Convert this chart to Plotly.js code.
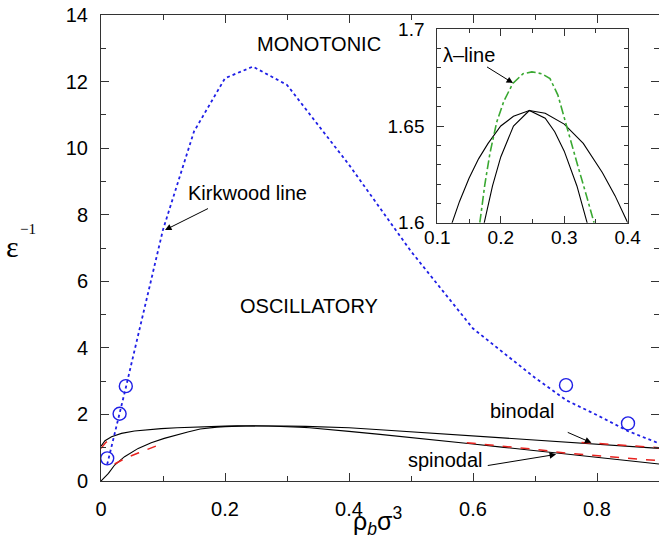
<!DOCTYPE html>
<html>
<head>
<meta charset="utf-8">
<script src="https://cdn.plot.ly/plotly-3.0.1.min.js"></script>
<style>html,body{margin:0;padding:0;background:#fff;}#chart{width:659px;height:541px;}</style>
</head>
<body>
<div id="chart"></div>
<script>
// Kirkwood line (blue dotted)
const kirkX = [0.01, 0.03, 0.04, 0.05, 0.1, 0.15, 0.2, 0.245, 0.3, 0.4, 0.5, 0.6, 0.7, 0.75, 0.8, 0.85, 0.9];
const kirkY = [0.5, 2.0, 2.8, 3.6, 7.55, 10.5, 12.1, 12.45, 11.9, 9.5, 6.9, 4.58, 3.1, 2.43, 1.98, 1.5, 1.13];
// simulation points (open circles)
const circX = [0.01, 0.03, 0.04, 0.75, 0.85];
const circY = [0.68, 2.02, 2.85, 2.88, 1.73];
// binodal (black)
const binX = [0, 0.0064, 0.017, 0.033, 0.054, 0.075, 0.097, 0.1227, 0.135, 0.15, 0.165, 0.18, 0.2, 0.22, 0.245, 0.27, 0.3, 0.33, 0.36, 0.38, 0.4, 0.45, 0.5, 0.542, 0.6, 0.65, 0.7, 0.734, 0.8, 0.85, 0.9];
const binY = [1.05, 1.21, 1.33, 1.43, 1.50, 1.545, 1.575, 1.600, 1.611, 1.623, 1.633, 1.641, 1.650, 1.655, 1.658, 1.6566, 1.651, 1.641, 1.626, 1.614, 1.600, 1.54, 1.48, 1.43, 1.36, 1.29, 1.23, 1.18, 1.10, 1.04, 0.98];
// spinodal (black)
const spX = [0, 0.005, 0.012, 0.022, 0.038, 0.06, 0.081, 0.102, 0.12, 0.14, 0.16, 0.174, 0.187, 0.2, 0.22, 0.245, 0.27, 0.285, 0.3, 0.32, 0.336, 0.369, 0.4, 0.45, 0.5, 0.55, 0.6, 0.65, 0.7, 0.75, 0.8, 0.85, 0.9];
const spY = [0, 0.09, 0.23, 0.48, 0.73, 0.98, 1.15, 1.28, 1.38, 1.47, 1.56, 1.600, 1.619, 1.634, 1.650, 1.658, 1.654, 1.647, 1.637, 1.619, 1.600, 1.55, 1.49, 1.40, 1.31, 1.21, 1.11, 1.01, 0.91, 0.79, 0.70, 0.60, 0.51];
// red dashed approximations
const redBinLowX = [0, 0.004, 0.008, 0.012];
const redBinLowY = [0.98, 1.08, 1.16, 1.22];
const redSpLowX = [0.022, 0.04, 0.06, 0.08, 0.097];
const redSpLowY = [0.51, 0.69, 0.84, 0.98, 1.11];
const redBinHighX = [0.775, 0.8, 0.85, 0.9];
const redBinHighY = [1.16, 1.13, 1.07, 1.0];
const redSpHighX = [0.59, 0.65, 0.7, 0.75, 0.8, 0.85, 0.9];
const redSpHighY = [1.15, 1.05, 0.95, 0.84, 0.76, 0.68, 0.61];
// lambda line (green, inset)
const lamX = [0.167, 0.175, 0.183, 0.1936, 0.205, 0.219, 0.235, 0.249, 0.265, 0.2776, 0.29, 0.306, 0.32, 0.335, 0.347];
const lamY = [1.6, 1.62, 1.636, 1.652, 1.663, 1.672, 1.677, 1.678, 1.677, 1.6745, 1.666, 1.647, 1.631, 1.614, 1.6];
// tick labels
const mainXTicks = [0, 0.2, 0.4, 0.6, 0.8];
const mainYTicks = [0, 2, 4, 6, 8, 10, 12, 14];
const insetXTicks = [0.1, 0.2, 0.3, 0.4];
const insetYTicks = [1.6, 1.65, 1.7];

const SANS = 'Liberation Sans, Arial, Helvetica, sans-serif';
const SERIF = 'Liberation Serif, Times New Roman, serif';
const BLUE = '#1f1fe6';
const RED = '#e8231f';
const GREEN = '#3aa832';

function line(x, y, color, dash, width, ax) {
  return {x: x, y: y, type: 'scatter', mode: 'lines', xaxis: ax ? 'x2' : 'x', yaxis: ax ? 'y2' : 'y',
    line: {color: color, dash: dash, width: width}, hoverinfo: 'skip', showlegend: false};
}

const traces = [
  line(binX, binY, '#000', 'solid', 1.1),
  line(spX, spY, '#000', 'solid', 1.1),
  line(redBinLowX, redBinLowY, RED, 'dash', 1.5),
  line(redSpLowX, redSpLowY, RED, 'dash', 1.5),
  line(redBinHighX, redBinHighY, RED, 'dash', 1.5),
  line(redSpHighX, redSpHighY, RED, 'dash', 1.5),
  line(kirkX, kirkY, BLUE, 'dot', 1.8),
  {x: circX, y: circY, type: 'scatter', mode: 'markers', showlegend: false, hoverinfo: 'skip',
    marker: {symbol: 'circle-open', size: 13, color: BLUE, line: {width: 1.4, color: BLUE}}},
  line(binX, binY, '#000', 'solid', 1.1, true),
  line(spX, spY, '#000', 'solid', 1.1, true),
  line(lamX, lamY, GREEN, 'dashdot', 1.6, true)
];

function axisBase(extra) {
  return Object.assign({
    showline: true, linecolor: '#333', linewidth: 1, mirror: 'allticks',
    ticks: 'inside', tickcolor: '#333', tickwidth: 1, showgrid: false, zeroline: false,
    tickfont: {family: SANS, size: 20, color: '#000'}, fixedrange: true
  }, extra);
}

const arrowBase = {text: ' ', showarrow: true, arrowhead: 2, arrowsize: 1.3, arrowwidth: 1, arrowcolor: '#000',
  axref: 'x', ayref: 'y', standoff: 0, startstandoff: 0};

const layout = {
  width: 659, height: 541,
  margin: {l: 101, r: 0, t: 15, b: 60},
  paper_bgcolor: '#fff', plot_bgcolor: '#fff',
  showlegend: false,
  xaxis: axisBase({domain: [0, 1], range: [0, 0.9], tickvals: mainXTicks, ticktext: mainXTicks.map(String),
    ticklen: 8, ticklabelstandoff: 10, minor: {dtick: 0.1, ticklen: 5, tickcolor: '#333', ticks: 'inside'}}),
  yaxis: axisBase({domain: [0, 1], range: [0, 14], tickvals: mainYTicks, ticktext: mainYTicks.map(String),
    ticklen: 8, ticklabelstandoff: 8, minor: {dtick: 1, ticklen: 5, tickcolor: '#333', ticks: 'inside'}}),
  xaxis2: axisBase({domain: [0.6027, 0.9439], anchor: 'y2', range: [0.1, 0.4], tickvals: insetXTicks,
    ticktext: insetXTicks.map(String), ticklen: 7, ticklabelstandoff: -2, tickfont: {family: SANS, size: 19, color: '#000'},
    minor: {dtick: 0.05, ticklen: 4, tickcolor: '#333', ticks: 'inside'}}),
  yaxis2: axisBase({domain: [0.5543, 0.9693], anchor: 'x2', range: [1.6, 1.7], tickvals: insetYTicks,
    ticktext: insetYTicks.map(String), ticklen: 7, ticklabelstandoff: 8, tickfont: {family: SANS, size: 19, color: '#000'},
    minor: {dtick: 0.01, ticklen: 4, tickcolor: '#333', ticks: 'inside'}}),
  annotations: [
    {text: 'MONOTONIC', x: 0.3516, y: 13.13, xref: 'x', yref: 'y', showarrow: false, font: {family: SANS, size: 20, color: '#000'}},
    {text: 'OSCILLATORY', x: 0.3355, y: 5.27, xref: 'x', yref: 'y', showarrow: false, font: {family: SANS, size: 20, color: '#000'}},
    {text: 'Kirkwood line', x: 0.2363, y: 8.64, xref: 'x', yref: 'y', showarrow: false, font: {family: SANS, size: 20, color: '#000'}},
    {text: 'binodal', x: 0.6806, y: 2.11, xref: 'x', yref: 'y', showarrow: false, font: {family: SANS, size: 20, color: '#000'}},
    {text: 'spinodal', x: 0.5561, y: 0.63, xref: 'x', yref: 'y', showarrow: false, font: {family: SANS, size: 20, color: '#000'}},
    {text: 'λ–line', x: 0.15, y: 1.6865, xref: 'x2', yref: 'y2', showarrow: false, font: {family: SANS, size: 20, color: '#000'}},
    Object.assign({}, arrowBase, {x: 0.1032, y: 7.54, ax: 0.1774, ay: 8.23, xref: 'x', yref: 'y'}),
    Object.assign({}, arrowBase, {x: 0.791, y: 1.15, ax: 0.748, ay: 1.50, xref: 'x', yref: 'y'}),
    Object.assign({}, arrowBase, {x: 0.734, y: 0.80, ax: 0.619, ay: 0.45, xref: 'x', yref: 'y'}),
    Object.assign({}, arrowBase, {x: 0.2193, y: 1.6722, ax: 0.1736, ay: 1.6815, xref: 'x2', yref: 'y2', axref: 'x2', ayref: 'y2'}),
    {text: 'ε', x: -0.1586, y: 0.503, xref: 'paper', yref: 'paper', xanchor: 'center', yanchor: 'middle', showarrow: false, font: {family: SERIF, size: 30, color: '#000'}},
    {text: '−1', x: -0.1317, y: 0.5408, xref: 'paper', yref: 'paper', xanchor: 'center', yanchor: 'middle', showarrow: false, font: {family: SERIF, size: 15, color: '#000'}},
    {text: 'ρ<sub><i>b</i></sub>σ<sup>3</sup>', x: 0.4964, y: -0.086, xref: 'paper', yref: 'paper', xanchor: 'center', yanchor: 'middle', showarrow: false, font: {family: SANS, size: 25, color: '#000'}}
  ]
};

Plotly.newPlot('chart', traces, layout, {staticPlot: true, displayModeBar: false});
</script>
</body>
</html>
